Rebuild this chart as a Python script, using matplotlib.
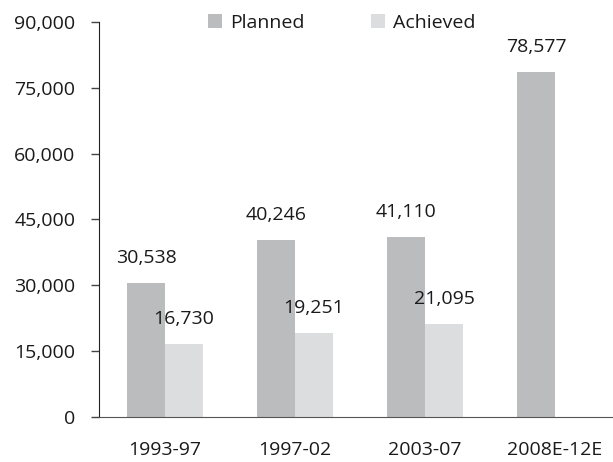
import numpy as np
import matplotlib.pyplot as plt
from matplotlib.ticker import FuncFormatter

plt.rcParams['font.family'] = ['Open Sans', 'DejaVu Sans']

# Data
periods = ['1993-97', '1997-02', '2003-07', '2008E-12E']
planned = [30538, 40246, 41110, 78577]
achieved = [16730, 19251, 21095, np.nan]

planned_color = '#bbbcbe'
achieved_color = '#dcdddf'
text_color = '#1a1a1a'

fig = plt.figure(figsize=(6.13, 4.62), dpi=100)
ax = fig.add_axes([0.1615, 0.0974, 0.8385, 0.855])

x = np.arange(len(periods))
w = 0.292

bars_p = ax.bar(x - w / 2, planned, w, color=planned_color, label='Planned')
bars_a = ax.bar(x + w / 2, achieved, w, color=achieved_color, label='Achieved')

# value labels above each bar
for bars, vals in [(bars_p, planned), (bars_a, achieved)]:
    for b, v in zip(bars, vals):
        if np.isnan(v):
            continue
        ax.annotate(f'{v:,.0f}', (b.get_x() + b.get_width() / 2, v),
                    xytext=(0, 18), textcoords='offset points',
                    ha='center', va='center', fontsize=14, color=text_color)

ax.set_ylim(0, 90000)
ax.set_yticks(np.arange(0, 90001, 15000))
ax.yaxis.set_major_formatter(FuncFormatter(lambda v, p: f'{v:,.0f}'))
ax.set_xlim(-0.508, 3.446)
ax.set_xticks(x)
ax.set_xticklabels(periods)

for s in ['top', 'right']:
    ax.spines[s].set_visible(False)
ax.spines['left'].set_color('#222222')
ax.spines['bottom'].set_color('#555555')
ax.tick_params(axis='y', length=6, width=1, colors='#444444', labelcolor=text_color,
               labelsize=14, pad=11)
ax.tick_params(axis='x', length=0, labelcolor=text_color, labelsize=14, pad=17)

ax.legend(loc='upper center', bbox_to_anchor=(0.472, 1.065), ncol=2, frameon=False,
          fontsize=14, handlelength=0.75, handleheight=0.75, handletextpad=0.4,
          columnspacing=3.4, labelcolor=text_color)

fig.savefig('out.png', dpi=100)
